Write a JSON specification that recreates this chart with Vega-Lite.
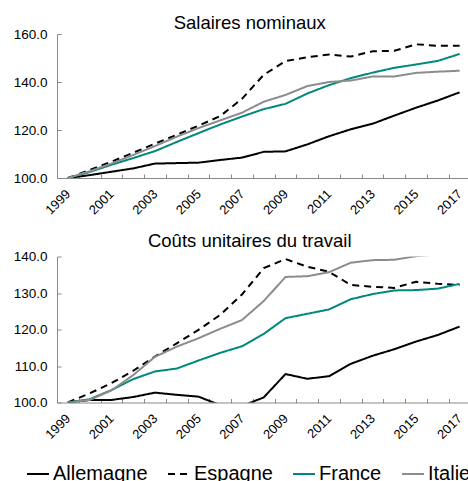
{
  "$schema": "https://vega.github.io/schema/vega-lite/v6.json",
  "padding": {"left": 13, "top": 13, "right": 0, "bottom": 0},
  "config": {
    "font": "Liberation Sans",
    "view": {"stroke": null},
    "axis": {"grid": false, "domainColor": "#898989", "tickColor": "#898989", "labelColor": "#000000", "labelFont": "Liberation Sans", "title": null, "domainWidth": 1, "tickWidth": 1},
    "title": {"font": "Liberation Sans", "fontSize": 18.5, "fontWeight": "normal", "color": "#000000"},
    "concat": {"spacing": 14.5},
    "legend": {"orient": "none", "legendX": -31, "legendY": 428, "direction": "horizontal", "labelFontSize": 20, "labelFont": "Liberation Sans", "labelColor": "#000000", "symbolType": "stroke", "symbolSize": 484, "symbolStrokeWidth": 2, "labelOffset": 3, "columnPadding": 16, "padding": 0}
  },
  "datasets": {
    "sal": [
      {"annee": 1999, "pays": "Allemagne", "valeur": 100}, {"annee": 2000, "pays": "Allemagne", "valeur": 101.2}, {"annee": 2001, "pays": "Allemagne", "valeur": 102.6}, {"annee": 2002, "pays": "Allemagne", "valeur": 104.0}, {"annee": 2003, "pays": "Allemagne", "valeur": 106.0}, {"annee": 2004, "pays": "Allemagne", "valeur": 106.2}, {"annee": 2005, "pays": "Allemagne", "valeur": 106.4}, {"annee": 2006, "pays": "Allemagne", "valeur": 107.5}, {"annee": 2007, "pays": "Allemagne", "valeur": 108.5}, {"annee": 2008, "pays": "Allemagne", "valeur": 110.9}, {"annee": 2009, "pays": "Allemagne", "valeur": 111.1}, {"annee": 2010, "pays": "Allemagne", "valeur": 114.0}, {"annee": 2011, "pays": "Allemagne", "valeur": 117.4}, {"annee": 2012, "pays": "Allemagne", "valeur": 120.3}, {"annee": 2013, "pays": "Allemagne", "valeur": 122.6}, {"annee": 2014, "pays": "Allemagne", "valeur": 126.0}, {"annee": 2015, "pays": "Allemagne", "valeur": 129.3}, {"annee": 2016, "pays": "Allemagne", "valeur": 132.3}, {"annee": 2017, "pays": "Allemagne", "valeur": 135.7},
      {"annee": 1999, "pays": "Espagne", "valeur": 100}, {"annee": 2000, "pays": "Espagne", "valeur": 103.3}, {"annee": 2001, "pays": "Espagne", "valeur": 106.8}, {"annee": 2002, "pays": "Espagne", "valeur": 110.5}, {"annee": 2003, "pays": "Espagne", "valeur": 114.3}, {"annee": 2004, "pays": "Espagne", "valeur": 118.0}, {"annee": 2005, "pays": "Espagne", "valeur": 121.8}, {"annee": 2006, "pays": "Espagne", "valeur": 125.8}, {"annee": 2007, "pays": "Espagne", "valeur": 133.0}, {"annee": 2008, "pays": "Espagne", "valeur": 143.0}, {"annee": 2009, "pays": "Espagne", "valeur": 148.7}, {"annee": 2010, "pays": "Espagne", "valeur": 150.3}, {"annee": 2011, "pays": "Espagne", "valeur": 151.5}, {"annee": 2012, "pays": "Espagne", "valeur": 150.6}, {"annee": 2013, "pays": "Espagne", "valeur": 152.8}, {"annee": 2014, "pays": "Espagne", "valeur": 153.0}, {"annee": 2015, "pays": "Espagne", "valeur": 155.7}, {"annee": 2016, "pays": "Espagne", "valeur": 155.1}, {"annee": 2017, "pays": "Espagne", "valeur": 155.1},
      {"annee": 1999, "pays": "France", "valeur": 100}, {"annee": 2000, "pays": "France", "valeur": 102.5}, {"annee": 2001, "pays": "France", "valeur": 105.5}, {"annee": 2002, "pays": "France", "valeur": 108.3}, {"annee": 2003, "pays": "France", "valeur": 111.2}, {"annee": 2004, "pays": "France", "valeur": 115.0}, {"annee": 2005, "pays": "France", "valeur": 118.7}, {"annee": 2006, "pays": "France", "valeur": 122.3}, {"annee": 2007, "pays": "France", "valeur": 125.6}, {"annee": 2008, "pays": "France", "valeur": 128.7}, {"annee": 2009, "pays": "France", "valeur": 130.9}, {"annee": 2010, "pays": "France", "valeur": 135.2}, {"annee": 2011, "pays": "France", "valeur": 138.7}, {"annee": 2012, "pays": "France", "valeur": 141.6}, {"annee": 2013, "pays": "France", "valeur": 143.9}, {"annee": 2014, "pays": "France", "valeur": 145.9}, {"annee": 2015, "pays": "France", "valeur": 147.3}, {"annee": 2016, "pays": "France", "valeur": 148.8}, {"annee": 2017, "pays": "France", "valeur": 151.7},
      {"annee": 1999, "pays": "Italie", "valeur": 100}, {"annee": 2000, "pays": "Italie", "valeur": 102.8}, {"annee": 2001, "pays": "Italie", "valeur": 106.0}, {"annee": 2002, "pays": "Italie", "valeur": 109.6}, {"annee": 2003, "pays": "Italie", "valeur": 113.3}, {"annee": 2004, "pays": "Italie", "valeur": 117.2}, {"annee": 2005, "pays": "Italie", "valeur": 120.8}, {"annee": 2006, "pays": "Italie", "valeur": 124.0}, {"annee": 2007, "pays": "Italie", "valeur": 127.2}, {"annee": 2008, "pays": "Italie", "valeur": 131.8}, {"annee": 2009, "pays": "Italie", "valeur": 134.6}, {"annee": 2010, "pays": "Italie", "valeur": 138.3}, {"annee": 2011, "pays": "Italie", "valeur": 140.0}, {"annee": 2012, "pays": "Italie", "valeur": 140.6}, {"annee": 2013, "pays": "Italie", "valeur": 142.3}, {"annee": 2014, "pays": "Italie", "valeur": 142.3}, {"annee": 2015, "pays": "Italie", "valeur": 143.8}, {"annee": 2016, "pays": "Italie", "valeur": 144.3}, {"annee": 2017, "pays": "Italie", "valeur": 144.7}
    ],
    "cout": [
      {"annee": 1999, "pays": "Allemagne", "valeur": 100}, {"annee": 2000, "pays": "Allemagne", "valeur": 100.7}, {"annee": 2001, "pays": "Allemagne", "valeur": 100.7}, {"annee": 2002, "pays": "Allemagne", "valeur": 101.5}, {"annee": 2003, "pays": "Allemagne", "valeur": 102.7}, {"annee": 2004, "pays": "Allemagne", "valeur": 102.1}, {"annee": 2005, "pays": "Allemagne", "valeur": 101.6}, {"annee": 2006, "pays": "Allemagne", "valeur": 99.3}, {"annee": 2007, "pays": "Allemagne", "valeur": 99.0}, {"annee": 2008, "pays": "Allemagne", "valeur": 101.4}, {"annee": 2009, "pays": "Allemagne", "valeur": 107.8}, {"annee": 2010, "pays": "Allemagne", "valeur": 106.5}, {"annee": 2011, "pays": "Allemagne", "valeur": 107.2}, {"annee": 2012, "pays": "Allemagne", "valeur": 110.6}, {"annee": 2013, "pays": "Allemagne", "valeur": 112.8}, {"annee": 2014, "pays": "Allemagne", "valeur": 114.6}, {"annee": 2015, "pays": "Allemagne", "valeur": 116.7}, {"annee": 2016, "pays": "Allemagne", "valeur": 118.5}, {"annee": 2017, "pays": "Allemagne", "valeur": 120.8},
      {"annee": 1999, "pays": "Espagne", "valeur": 100}, {"annee": 2000, "pays": "Espagne", "valeur": 102.5}, {"annee": 2001, "pays": "Espagne", "valeur": 105.3}, {"annee": 2002, "pays": "Espagne", "valeur": 108.7}, {"annee": 2003, "pays": "Espagne", "valeur": 112.6}, {"annee": 2004, "pays": "Espagne", "valeur": 116.2}, {"annee": 2005, "pays": "Espagne", "valeur": 119.9}, {"annee": 2006, "pays": "Espagne", "valeur": 124.0}, {"annee": 2007, "pays": "Espagne", "valeur": 129.6}, {"annee": 2008, "pays": "Espagne", "valeur": 136.8}, {"annee": 2009, "pays": "Espagne", "valeur": 139.3}, {"annee": 2010, "pays": "Espagne", "valeur": 137.2}, {"annee": 2011, "pays": "Espagne", "valeur": 135.8}, {"annee": 2012, "pays": "Espagne", "valeur": 132.2}, {"annee": 2013, "pays": "Espagne", "valeur": 131.7}, {"annee": 2014, "pays": "Espagne", "valeur": 131.4}, {"annee": 2015, "pays": "Espagne", "valeur": 133.1}, {"annee": 2016, "pays": "Espagne", "valeur": 132.5}, {"annee": 2017, "pays": "Espagne", "valeur": 132.2},
      {"annee": 1999, "pays": "France", "valeur": 100}, {"annee": 2000, "pays": "France", "valeur": 100.9}, {"annee": 2001, "pays": "France", "valeur": 103.4}, {"annee": 2002, "pays": "France", "valeur": 106.4}, {"annee": 2003, "pays": "France", "valeur": 108.5}, {"annee": 2004, "pays": "France", "valeur": 109.3}, {"annee": 2005, "pays": "France", "valeur": 111.5}, {"annee": 2006, "pays": "France", "valeur": 113.6}, {"annee": 2007, "pays": "France", "valeur": 115.4}, {"annee": 2008, "pays": "France", "valeur": 118.8}, {"annee": 2009, "pays": "France", "valeur": 123.1}, {"annee": 2010, "pays": "France", "valeur": 124.3}, {"annee": 2011, "pays": "France", "valeur": 125.5}, {"annee": 2012, "pays": "France", "valeur": 128.3}, {"annee": 2013, "pays": "France", "valeur": 129.7}, {"annee": 2014, "pays": "France", "valeur": 130.7}, {"annee": 2015, "pays": "France", "valeur": 130.8}, {"annee": 2016, "pays": "France", "valeur": 131.2}, {"annee": 2017, "pays": "France", "valeur": 132.5},
      {"annee": 1999, "pays": "Italie", "valeur": 100}, {"annee": 2000, "pays": "Italie", "valeur": 100.7}, {"annee": 2001, "pays": "Italie", "valeur": 103.3}, {"annee": 2002, "pays": "Italie", "valeur": 107.5}, {"annee": 2003, "pays": "Italie", "valeur": 112.5}, {"annee": 2004, "pays": "Italie", "valeur": 115.3}, {"annee": 2005, "pays": "Italie", "valeur": 117.6}, {"annee": 2006, "pays": "Italie", "valeur": 120.2}, {"annee": 2007, "pays": "Italie", "valeur": 122.6}, {"annee": 2008, "pays": "Italie", "valeur": 127.8}, {"annee": 2009, "pays": "Italie", "valeur": 134.4}, {"annee": 2010, "pays": "Italie", "valeur": 134.6}, {"annee": 2011, "pays": "Italie", "valeur": 135.7}, {"annee": 2012, "pays": "Italie", "valeur": 138.3}, {"annee": 2013, "pays": "Italie", "valeur": 139.0}, {"annee": 2014, "pays": "Italie", "valeur": 139.1}, {"annee": 2015, "pays": "Italie", "valeur": 140.1}, {"annee": 2016, "pays": "Italie", "valeur": 140.6}, {"annee": 2017, "pays": "Italie", "valeur": 141.0}
    ]
  },
  "vconcat": [
    {
      "width": 413.5,
      "height": 144,
      "title": {"text": "Salaires nominaux", "offset": -5, "frame": "group", "dx": -14},
      "data": {"name": "sal"},
      "mark": {"type": "line", "strokeWidth": 2, "clip": true},
      "encoding": {
        "x": {"field": "annee", "type": "quantitative", "scale": {"domain": [1998.5, 2017.5], "nice": false, "zero": false},
          "axis": {"values": [1998.5, 1999, 1999.5, 2000.5, 2001, 2001.5, 2002.5, 2003, 2003.5, 2004.5, 2005, 2005.5, 2006.5, 2007, 2007.5, 2008.5, 2009, 2009.5, 2010.5, 2011, 2011.5, 2012.5, 2013, 2013.5, 2014.5, 2015, 2015.5, 2016.5, 2017, 2017.5],
            "labelExpr": "datum.value % 2 == 1 ? '' + datum.value : ''", "labelAngle": -45, "labelAlign": "right", "labelBaseline": "middle", "labelFontSize": 13, "labelPadding": 17.5, "tickSize": -4,
            "tickOpacity": {"condition": {"test": "datum.value % 1 == 0", "value": 0}, "value": 1}, "labelOverlap": false, "labelFlush": false, "labelBound": false}},
        "y": {"field": "valeur", "type": "quantitative", "scale": {"domain": [100, 160], "nice": false, "zero": false},
          "axis": {"values": [100, 120, 140, 160], "format": ".1f", "labelFontSize": 13.5, "tickSize": -4, "labelPadding": 14}},
        "color": {"field": "pays", "type": "nominal", "scale": {"domain": ["Allemagne", "Espagne", "France", "Italie"], "range": ["#000000", "#000000", "#00897b", "#8c8c8c"]}, "legend": {"title": null}},
        "strokeDash": {"field": "pays", "type": "nominal", "scale": {"domain": ["Allemagne", "Espagne", "France", "Italie"], "range": [[1, 0], [7, 5], [1, 0], [1, 0]]}, "legend": {"title": null}}
      }
    },
    {
      "width": 413.5,
      "height": 146,
      "title": {"text": "Coûts unitaires du travail", "offset": -1.3, "frame": "group", "dx": -14},
      "data": {"name": "cout"},
      "mark": {"type": "line", "strokeWidth": 2, "clip": true},
      "encoding": {
        "x": {"field": "annee", "type": "quantitative", "scale": {"domain": [1998.5, 2017.5], "nice": false, "zero": false},
          "axis": {"values": [1998.5, 1999, 1999.5, 2000.5, 2001, 2001.5, 2002.5, 2003, 2003.5, 2004.5, 2005, 2005.5, 2006.5, 2007, 2007.5, 2008.5, 2009, 2009.5, 2010.5, 2011, 2011.5, 2012.5, 2013, 2013.5, 2014.5, 2015, 2015.5, 2016.5, 2017, 2017.5],
            "labelExpr": "datum.value % 2 == 1 ? '' + datum.value : ''", "labelAngle": -45, "labelAlign": "right", "labelBaseline": "middle", "labelFontSize": 13, "labelPadding": 17.5, "tickSize": -4,
            "tickOpacity": {"condition": {"test": "datum.value % 1 == 0", "value": 0}, "value": 1}, "labelOverlap": false, "labelFlush": false, "labelBound": false}},
        "y": {"field": "valeur", "type": "quantitative", "scale": {"domain": [100, 140], "nice": false, "zero": false},
          "axis": {"values": [100, 110, 120, 130, 140], "format": ".1f", "labelFontSize": 13.5, "tickSize": -4, "labelPadding": 14}},
        "color": {"field": "pays", "type": "nominal", "scale": {"domain": ["Allemagne", "Espagne", "France", "Italie"], "range": ["#000000", "#000000", "#00897b", "#8c8c8c"]}, "legend": {"title": null}},
        "strokeDash": {"field": "pays", "type": "nominal", "scale": {"domain": ["Allemagne", "Espagne", "France", "Italie"], "range": [[1, 0], [7, 5], [1, 0], [1, 0]]}, "legend": {"title": null}}
      }
    }
  ]
}
